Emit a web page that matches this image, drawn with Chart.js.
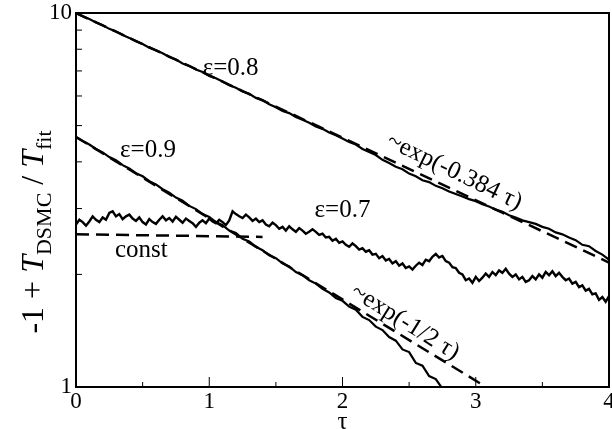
<!DOCTYPE html>
<html>
<head>
<meta charset="utf-8">
<script src="https://cdn.jsdelivr.net/npm/chart.js@4.4.0/dist/chart.umd.min.js"></script>
<style>
  html, body { margin: 0; padding: 0; background: #fff; }
</style>
</head>
<body>
<canvas id="decay-chart" width="612" height="429"></canvas>
<script>
// sampling points in tau for eps=0.8 and eps=0.9
const tau = [0, 0.05, 0.1, 0.15, 0.2, 0.25, 0.3, 0.35, 0.4, 0.45,
  0.5, 0.55, 0.6, 0.65, 0.7, 0.75, 0.8, 0.85, 0.9, 0.95,
  1, 1.05, 1.1, 1.15, 1.2, 1.25, 1.3, 1.35, 1.4, 1.45,
  1.5, 1.55, 1.6, 1.65, 1.7, 1.75, 1.8, 1.85, 1.9, 1.95,
  2, 2.05, 2.1, 2.15, 2.2, 2.25, 2.3, 2.35, 2.4, 2.45,
  2.5, 2.55, 2.6, 2.65, 2.7, 2.75, 2.8, 2.85, 2.9, 2.95,
  3, 3.05, 3.1, 3.15, 3.2, 3.25, 3.3, 3.35, 3.4, 3.45,
  3.5, 3.55, 3.6, 3.65, 3.7, 3.75, 3.8, 3.85, 3.9, 3.95, 4];

const eps08 = [10.0, 9.80, 9.64, 9.43, 9.27, 9.07, 8.93, 8.73, 8.58, 8.40,
  8.26, 8.08, 7.95, 7.80, 7.63, 7.51, 7.33, 7.22, 7.06, 6.95,
  6.79, 6.69, 6.56, 6.41, 6.31, 6.17, 6.08, 5.93, 5.85, 5.70,
  5.60, 5.47, 5.40, 5.27, 5.18, 5.09, 4.97, 4.90, 4.79, 4.71,
  4.62, 4.52, 4.45, 4.33, 4.25, 4.17, 4.05, 3.97, 3.88, 3.82,
  3.72, 3.66, 3.57, 3.53, 3.45, 3.40, 3.33, 3.28, 3.23, 3.18,
  3.14, 3.08, 3.04, 2.98, 2.94, 2.88, 2.84, 2.79, 2.76, 2.73,
  2.68, 2.65, 2.59, 2.56, 2.51, 2.47, 2.40, 2.38, 2.31, 2.26, 2.19];

// eps=0.9 only runs to tau=2.8 before leaving the axis
const eps09 = [4.66, 4.55, 4.45, 4.33, 4.24, 4.12, 4.04, 3.92, 3.84, 3.73,
  3.66, 3.55, 3.48, 3.38, 3.31, 3.21, 3.15, 3.05, 2.99, 2.90,
  2.85, 2.76, 2.71, 2.62, 2.58, 2.49, 2.45, 2.37, 2.32, 2.25,
  2.21, 2.14, 2.10, 2.03, 1.99, 1.93, 1.89, 1.83, 1.79, 1.73,
  1.70, 1.64, 1.61, 1.54, 1.51, 1.45, 1.42, 1.36, 1.33, 1.26,
  1.24, 1.16, 1.14, 1.07, 1.05, 0.99, 0.97];

// eps=0.7 is noisier, read on a finer step
const tau07 = [0, 0.025, 0.05, 0.075, 0.1, 0.125, 0.15, 0.175, 0.2, 0.225,
  0.25, 0.275, 0.3, 0.325, 0.35, 0.375, 0.4, 0.425, 0.45, 0.475,
  0.5, 0.525, 0.55, 0.575, 0.6, 0.625, 0.65, 0.675, 0.7, 0.725,
  0.75, 0.775, 0.8, 0.825, 0.85, 0.875, 0.9, 0.925, 0.95, 0.975,
  1, 1.025, 1.05, 1.075, 1.1, 1.125, 1.15, 1.175, 1.2, 1.225,
  1.25, 1.275, 1.3, 1.325, 1.35, 1.375, 1.4, 1.425, 1.45, 1.475,
  1.5, 1.525, 1.55, 1.575, 1.6, 1.625, 1.65, 1.675, 1.7, 1.725,
  1.75, 1.775, 1.8, 1.825, 1.85, 1.875, 1.9, 1.925, 1.95, 1.975,
  2, 2.025, 2.05, 2.075, 2.1, 2.125, 2.15, 2.175, 2.2, 2.225,
  2.25, 2.275, 2.3, 2.325, 2.35, 2.375, 2.4, 2.425, 2.45, 2.475,
  2.5, 2.525, 2.55, 2.575, 2.6, 2.625, 2.65, 2.675, 2.7, 2.725,
  2.75, 2.775, 2.8, 2.825, 2.85, 2.875, 2.9, 2.925, 2.95, 2.975,
  3, 3.025, 3.05, 3.075, 3.1, 3.125, 3.15, 3.175, 3.2, 3.225,
  3.25, 3.275, 3.3, 3.325, 3.35, 3.375, 3.4, 3.425, 3.45, 3.475,
  3.5, 3.525, 3.55, 3.575, 3.6, 3.625, 3.65, 3.675, 3.7, 3.725,
  3.75, 3.775, 3.8, 3.825, 3.85, 3.875, 3.9, 3.925, 3.95, 3.975, 4];

const eps07 = [2.72, 2.80, 2.76, 2.70, 2.77, 2.86, 2.80, 2.76, 2.84, 2.80,
  2.92, 2.95, 2.86, 2.90, 2.81, 2.86, 2.89, 2.82, 2.78, 2.84,
  2.76, 2.72, 2.81, 2.76, 2.73, 2.80, 2.86, 2.79, 2.83, 2.77,
  2.85, 2.80, 2.75, 2.82, 2.78, 2.74, 2.68, 2.75, 2.79, 2.74,
  2.82, 2.77, 2.74, 2.80, 2.76, 2.71, 2.79, 2.95, 2.90, 2.86,
  2.83, 2.89, 2.84, 2.78, 2.82, 2.76, 2.79, 2.72, 2.69, 2.75,
  2.71, 2.65, 2.68, 2.62, 2.69, 2.64, 2.60, 2.66, 2.62, 2.57,
  2.60, 2.64, 2.60, 2.55, 2.57, 2.51, 2.52, 2.46, 2.49, 2.43,
  2.45, 2.40, 2.37, 2.42, 2.38, 2.33, 2.35, 2.30, 2.32, 2.26,
  2.27, 2.21, 2.24, 2.18, 2.20, 2.14, 2.17, 2.11, 2.14, 2.08,
  2.10, 2.06, 2.11, 2.15, 2.12, 2.19, 2.17, 2.23, 2.27, 2.22,
  2.24, 2.17, 2.15, 2.09, 2.08, 2.02, 2.00, 1.93, 1.95, 1.90,
  1.97, 1.92, 1.96, 2.01, 1.97, 2.03, 1.99, 2.05, 2.02, 2.07,
  2.01, 1.97, 2.00, 1.94, 1.97, 1.91, 1.93, 1.98, 1.94, 2.00,
  1.96, 2.03, 1.99, 2.04, 1.98, 2.02, 1.97, 1.93, 1.95, 1.89,
  1.91, 1.85, 1.87, 1.81, 1.83, 1.77, 1.78, 1.71, 1.74, 1.69, 1.75];

// dashed fits (straight on the log axis, so two ends each)
const fit08Tau = [0, 4];
const fit08 = [10, 2.152];
const fit09Tau = [0, 3.05];
const fit09 = [4.66, 1.014];
const constTau = [0, 1.4];
const constVal = [2.56, 2.52];

// axis ticks
const xMajorTicks = [0, 1, 2, 3, 4];
const xMinorTicks = [0.5, 1.5, 2.5, 3.5];
const yMinorTicks = [2, 3, 4, 5, 6, 7, 8, 9];
const yTickLabels = [1, 10];

const serif = "'Liberation Serif', 'Times New Roman', serif";

function pairs(xs, ys) {
  return ys.map((v, i) => ({ x: xs[i], y: v }));
}

function solid(data, width) {
  return { data: data, borderColor: "#000", borderWidth: width, pointRadius: 0, fill: false };
}

function dashed(data) {
  return { data: data, borderColor: "#000", borderWidth: 2.5, borderDash: [13, 7], pointRadius: 0, fill: false };
}

// box round the plot and inward tick marks
const frameAndTicks = {
  id: "frameAndTicks",
  afterDatasetsDraw(chart) {
    const { ctx, chartArea: a, scales } = chart;
    const x = scales.x, y = scales.y;
    ctx.save();
    ctx.strokeStyle = "#000";
    ctx.lineWidth = 1;
    ctx.beginPath();
    xMajorTicks.forEach((t) => {
      const px = x.getPixelForValue(t);
      ctx.moveTo(px, a.bottom);
      ctx.lineTo(px, a.bottom - 10);
    });
    xMinorTicks.forEach((t) => {
      const px = x.getPixelForValue(t);
      ctx.moveTo(px, a.bottom);
      ctx.lineTo(px, a.bottom - 5);
    });
    yMinorTicks.forEach((t) => {
      const py = y.getPixelForValue(t);
      ctx.moveTo(a.left, py);
      ctx.lineTo(a.left + 6, py);
    });
    ctx.stroke();
    ctx.lineWidth = 2;
    ctx.strokeRect(a.left, a.top, a.right - a.left, a.bottom - a.top);
    ctx.restore();
  },
};

const notes = [
  { text: "ε=0.8", tau: 1.16, val: 7.13, angle: 0 },
  { text: "ε=0.9", tau: 0.54, val: 4.3, angle: 0 },
  { text: "ε=0.7", tau: 2.0, val: 2.96, angle: 0 },
  { text: "const", tau: 0.49, val: 2.32, angle: 0 },
  { text: "~exp(-0.384 τ)", tau: 2.84, val: 3.76, angle: 26 },
  { text: "~exp(-1/2 τ)", tau: 2.47, val: 1.49, angle: 32 },
];

const textLayer = {
  id: "textLayer",
  afterDraw(chart) {
    const { ctx, scales } = chart;
    const x = scales.x, y = scales.y;
    ctx.save();
    ctx.fillStyle = "#000";
    ctx.textAlign = "center";
    ctx.textBaseline = "middle";
    ctx.font = "25px " + serif;
    notes.forEach((n) => {
      ctx.save();
      ctx.translate(x.getPixelForValue(n.tau), y.getPixelForValue(n.val));
      ctx.rotate((n.angle * Math.PI) / 180);
      ctx.fillText(n.text, 0, 0);
      ctx.restore();
    });

    // x title
    ctx.fillText("τ", x.getPixelForValue(2), 422);

    // y title with italic T and subscripts
    const parts = [
      { t: "-1 + ", font: "32px " + serif, dy: 0 },
      { t: "T", font: "italic 32px " + serif, dy: 0 },
      { t: "DSMC", font: "22px " + serif, dy: 8 },
      { t: " / ", font: "32px " + serif, dy: 0 },
      { t: "T", font: "italic 32px " + serif, dy: 0 },
      { t: "fit", font: "22px " + serif, dy: 8 },
    ];
    let total = 0;
    parts.forEach((p) => {
      ctx.font = p.font;
      p.w = ctx.measureText(p.t).width;
      total += p.w;
    });
    ctx.translate(32, 232);
    ctx.rotate(-Math.PI / 2);
    ctx.textAlign = "left";
    ctx.textBaseline = "alphabetic";
    let cx = -total / 2;
    parts.forEach((p) => {
      ctx.font = p.font;
      ctx.fillText(p.t, cx, 11 + p.dy);
      cx += p.w;
    });
    ctx.restore();
  },
};

const ctx = document.getElementById("decay-chart");

new Chart(ctx, {
  type: "line",
  data: {
    datasets: [
      solid(pairs(tau, eps08), 2.2),
      solid(pairs(tau, eps09), 2.2),
      solid(pairs(tau07, eps07), 2.4),
      dashed(pairs(fit08Tau, fit08)),
      dashed(pairs(fit09Tau, fit09)),
      dashed(pairs(constTau, constVal)),
    ],
  },
  options: {
    responsive: false,
    animation: false,
    layout: { padding: { top: 13, right: 3, left: 0, bottom: 0 } },
    plugins: {
      legend: { display: false },
      tooltip: { enabled: false },
    },
    elements: { line: { tension: 0 } },
    scales: {
      x: {
        type: "linear",
        min: 0,
        max: 4,
        grid: { display: false, drawTicks: false },
        border: { display: false },
        ticks: {
          stepSize: 1,
          color: "#000",
          padding: 1,
          maxRotation: 0,
          font: { family: serif, size: 23 },
        },
        afterFit: function (s) {
          s.height = 42;
          s.paddingLeft = 0;
          s.paddingRight = 0;
        },
      },
      y: {
        type: "logarithmic",
        min: 1,
        max: 10,
        grid: { display: false, drawTicks: false },
        border: { display: false },
        ticks: {
          color: "#000",
          padding: 4,
          autoSkip: false,
          font: { family: serif, size: 23 },
          callback: function (value) {
            return yTickLabels.includes(value) ? String(value) : "";
          },
        },
        afterFit: function (s) {
          s.width = 76;
          s.paddingTop = 0;
          s.paddingBottom = 0;
        },
      },
    },
  },
  plugins: [frameAndTicks, textLayer],
});
</script>
</body>
</html>
